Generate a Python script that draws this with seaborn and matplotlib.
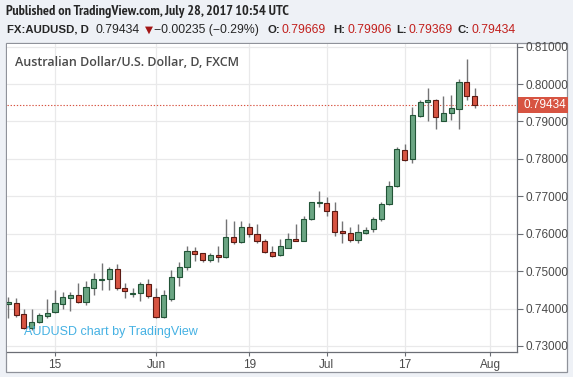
import matplotlib
matplotlib.use("Agg")
import matplotlib.pyplot as plt
import matplotlib.transforms as mtransforms
from matplotlib.patches import Rectangle
from matplotlib import font_manager
import seaborn as sns
import numpy as np
import pandas as pd

# ---------------- data (daily AUDUSD, trading-day index 0 = May 5, 2017) -------------
opens = [0.7411, 0.7414, 0.7385, 0.7347, 0.7365, 0.7380, 0.7391, 0.7412, 0.7429, 0.7436,
         0.7418, 0.7454, 0.7476, 0.7478, 0.7505, 0.7454, 0.7438, 0.7441, 0.7466, 0.7432,
         0.7377, 0.7425, 0.7485, 0.7510, 0.7554, 0.7548, 0.7530, 0.7542, 0.7537, 0.7590,
         0.7579, 0.7617, 0.7598, 0.7581, 0.7552, 0.7542, 0.7563, 0.7585, 0.7581, 0.7639,
         0.7683, 0.7681, 0.7662, 0.7607, 0.7603, 0.7583, 0.7601, 0.7612, 0.7639, 0.7679,
         0.7728, 0.7824, 0.7799, 0.7915, 0.7953, 0.7958, 0.7902, 0.7922, 0.7933, 0.8005,
         0.79669]
highs = [0.7430, 0.7427, 0.7400, 0.7398, 0.7389, 0.7425, 0.7450, 0.7445, 0.7445, 0.7469,
         0.7474, 0.7494, 0.7521, 0.7510, 0.7519, 0.7467, 0.7454, 0.7472, 0.7478, 0.7456,
         0.7450, 0.7503, 0.7525, 0.7568, 0.7564, 0.7549, 0.7549, 0.7567, 0.7639, 0.7634,
         0.7634, 0.7629, 0.7625, 0.7585, 0.7567, 0.7585, 0.7603, 0.7626, 0.7647, 0.7686,
         0.7714, 0.7699, 0.7684, 0.7634, 0.7617, 0.7625, 0.7619, 0.7644, 0.7686, 0.7741,
         0.7833, 0.7839, 0.7940, 0.7958, 0.7989, 0.7959, 0.7968, 0.7971, 0.8013, 0.8067,
         0.79906]
lows = [0.7374, 0.7378, 0.7344, 0.7343, 0.7361, 0.7374, 0.7389, 0.7400, 0.7394, 0.7414,
        0.7409, 0.7436, 0.7450, 0.7450, 0.7450, 0.7427, 0.7432, 0.7421, 0.7427, 0.7375,
        0.7375, 0.7421, 0.7460, 0.7503, 0.7528, 0.7523, 0.7525, 0.7525, 0.7534, 0.7573,
        0.7574, 0.7590, 0.7576, 0.7549, 0.7539, 0.7540, 0.7561, 0.7580, 0.7580, 0.7637,
        0.7671, 0.7647, 0.7594, 0.7576, 0.7579, 0.7576, 0.7599, 0.7605, 0.7634, 0.7678,
        0.7726, 0.7794, 0.7790, 0.7911, 0.7900, 0.7879, 0.7900, 0.7904, 0.7880, 0.7958,
        0.79369]
closes = [0.7417, 0.7383, 0.7347, 0.7365, 0.7383, 0.7387, 0.7414, 0.7430, 0.7436, 0.7418,
          0.7458, 0.7479, 0.7479, 0.7505, 0.7454, 0.7448, 0.7441, 0.7466, 0.7433, 0.7377,
          0.7435, 0.7485, 0.7510, 0.7554, 0.7546, 0.7530, 0.7543, 0.7539, 0.7590, 0.7579,
          0.7617, 0.7598, 0.7581, 0.7552, 0.7540, 0.7568, 0.7585, 0.7581, 0.7639, 0.7684,
          0.7686, 0.7662, 0.7605, 0.7603, 0.7583, 0.7605, 0.7610, 0.7639, 0.7679, 0.7728,
          0.7826, 0.7797, 0.7917, 0.7953, 0.7958, 0.7913, 0.7922, 0.7935, 0.8005, 0.7967,
          0.79434]
tick_days = [6, 19, 31, 41, 51, 62]
tick_labels = ["15", "Jun", "19", "Jul", "17", "Aug"]
price_ticks = [0.73, 0.74, 0.75, 0.76, 0.77, 0.78, 0.79, 0.80, 0.81]
last_price = 0.79434
header1 = "Published on TradingView.com, July 28, 2017 10:54 UTC"
chart_title = "Australian Dollar/U.S. Dollar, D, FXCM"
watermark = "AUDUSD chart by TradingView"

df = pd.DataFrame({"day": np.arange(len(opens)), "open": opens, "high": highs,
                   "low": lows, "close": closes})
df["up"] = df["close"] >= df["open"]

# ---------------- style -------------
sns.set_theme(style="white")
installed = {f.name for f in font_manager.fontManager.ttflist}
narrow = next((n for n in ["Liberation Sans Narrow", "Arial Narrow", "PT Sans Narrow",
                           "Roboto Condensed", "Archivo Narrow", "Liberation Sans"]
               if n in installed), "DejaVu Sans")
plt.rcParams["font.family"] = ["Liberation Sans", "DejaVu Sans"]

W, H = 573, 377
fig = plt.figure(figsize=(W / 100, H / 100), dpi=100, facecolor="#eef1f6")

def fx(px):
    return px / W

def fy(py):
    return 1 - py / H

# white chart frame
frame = Rectangle((fx(6), fy(372)), fx(561), 329 / H, transform=fig.transFigure,
                  facecolor="white", edgecolor="#8f929a", lw=0.9, zorder=-5)
fig.add_artist(frame)

ax = fig.add_axes([fx(7), fy(352), fx(510), 308 / H])
ax.set_zorder(2)
ax.set_facecolor("white")

UP_FILL, UP_EDGE = "#6ba583", "#225437"
DN_FILL, DN_EDGE = "#d75442", "#5b1a13"

# wicks
ax.vlines(df["day"], df["low"], df["high"], color="#737375", lw=1.0, zorder=2)
# bodies
body_bottom = np.minimum(df["open"], df["close"])
body_h = np.maximum(np.abs(df["close"] - df["open"]), 0.00010)
ax.bar(df["day"], body_h, bottom=body_bottom, width=0.66,
       color=np.where(df["up"], UP_FILL, DN_FILL),
       edgecolor=np.where(df["up"], UP_EDGE, DN_EDGE), lw=0.8, zorder=3)

ax.set_xlim(-0.17, 65.47)
ax.set_ylim(0.72837, 0.81072)

# grid
for p in price_ticks:
    ax.axhline(p, color="#e9e9ea", lw=0.9, zorder=0)
for d in tick_days:
    ax.axvline(d, color="#e9e9ea", lw=0.9, zorder=0)

# last-price dotted line
ax.axhline(last_price, color="#d75442", lw=0.8, ls=(0, (1.2, 1.6)), zorder=1)

# axes
ax.yaxis.tick_right()
ax.set_yticks(price_ticks)
ax.set_yticklabels([f"{p:.5f}" for p in price_ticks])
ax.set_xticks(tick_days)
ax.set_xticklabels(tick_labels)
ax.tick_params(axis="y", which="both", right=True, left=False, length=4, width=0.8,
               color="#6b6e75", labelcolor="#4a4a4a", labelsize=8.5, pad=2)
ax.tick_params(axis="x", which="both", bottom=True, length=3, width=0.8,
               color="#6b6e75", labelcolor="#4a4a4a", labelsize=8.5, pad=2)
for s in ["left", "top"]:
    ax.spines[s].set_visible(False)
for s in ["right", "bottom"]:
    ax.spines[s].set_color("#6b6e75")
    ax.spines[s].set_linewidth(0.9)

# price label box on the right axis
blend = mtransforms.blended_transform_factory(ax.transAxes, ax.transData)
half = 8 / 3740
ax.add_patch(Rectangle((1.0015, last_price - half), 50 / 510, 2 * half, transform=blend,
                       facecolor="#d75442", edgecolor="none", clip_on=False, zorder=5))
ax.text(1.0 + 6 / 510, last_price, f"{last_price:.5f}", transform=blend, color="white",
        fontsize=8.5, va="center", ha="left", zorder=6)

# in-chart title & watermark
ax.text(8 / 510, 1 - 18 / 308, chart_title, transform=ax.transAxes, fontsize=9,
        color="#4a4a4a", va="center", ha="left", fontweight=600,
        family=["Open Sans", "DejaVu Sans"])
ax.text(17 / 510, 1 - 288 / 308, watermark, transform=ax.transAxes, fontsize=9.0,
        color="#45b1e3", va="center", ha="left", family=["Liberation Sans", "DejaVu Sans"])

# header line 1
fig.text(fx(6), fy(11), header1, fontsize=10.2, color="#262626", fontweight="bold",
         va="center", ha="left", family=[narrow, "DejaVu Sans"])

# header line 2, pieces placed at their reference positions
RED = "#c2201d"
DARK = "#262626"
parts = [
    (6.6, "FX:AUDUSD, D", DARK, "bold"),
    (96, "0.79434", DARK, "normal"),
    (144.5, "\u25bc", "#a31515", "tri"),
    (153.5, "\u22120.00235 (\u22120.29%)", DARK, "normal"),
    (268, "O:", DARK, "bold"),
    (282, "0.79669", RED, "normal"),
    (333.5, "H:", DARK, "bold"),
    (347.5, "0.79906", RED, "normal"),
    (396.5, "L:", DARK, "bold"),
    (408.5, "0.79369", RED, "normal"),
    (457.5, "C:", DARK, "bold"),
    (471, "0.79434", RED, "normal"),
]
for xp, s, col, kind in parts:
    if kind == "tri":
        fig.text(fx(xp), fy(30), s, fontsize=7.5, color=col, va="center", ha="left",
                 family=["DejaVu Sans"])
    elif kind == "bold":
        fig.text(fx(xp), fy(30), s, fontsize=8.2, color=col, fontweight="bold",
                 va="center", ha="left", family=["Liberation Sans", "DejaVu Sans"])
    else:
        fig.text(fx(xp), fy(30), s, fontsize=8.8, color=col, va="center", ha="left",
                 family=["Liberation Sans", "DejaVu Sans"])

fig.savefig("out.png", dpi=100, facecolor=fig.get_facecolor())
